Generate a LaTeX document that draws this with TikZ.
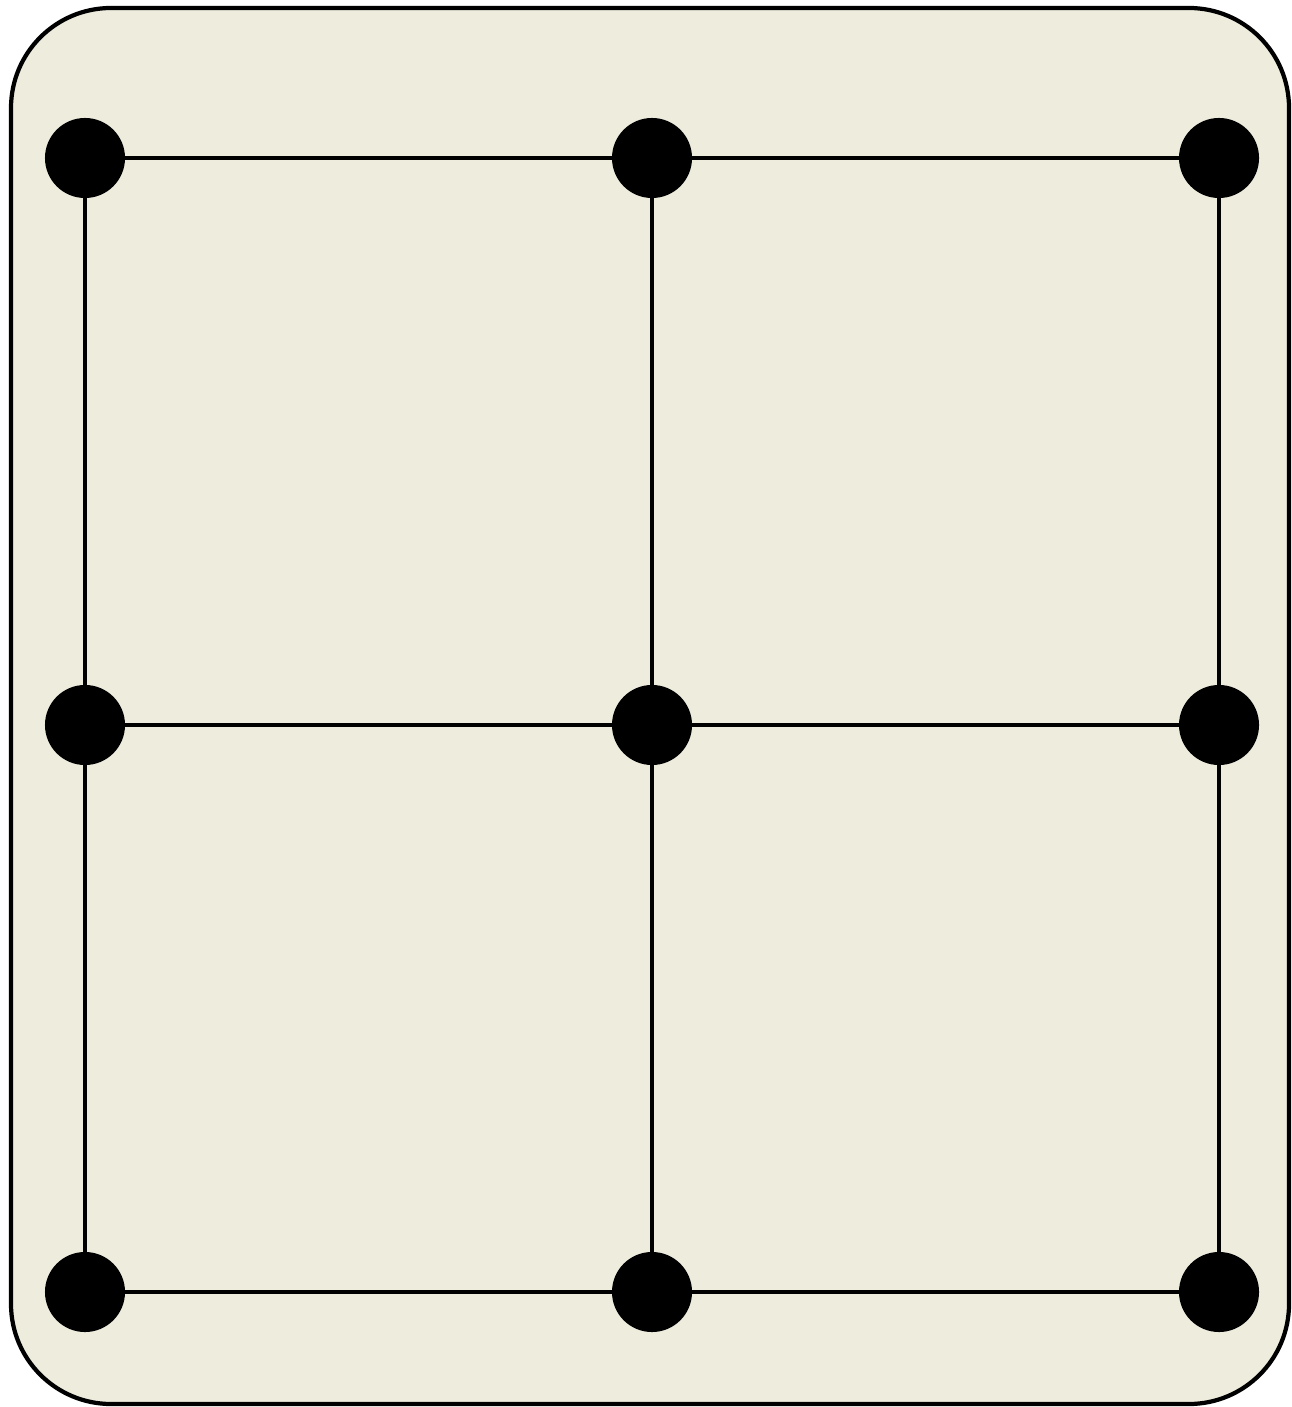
\documentclass[tikz,border=0pt]{standalone}
\usetikzlibrary{positioning}
\definecolor{parchment}{RGB}{238,236,221}
\tikzset{
  dot/.style={circle, fill=black, minimum size=0.8cm, inner sep=0pt, outer sep=0pt},
  edge line/.style={line width=0.9pt},
}

\begin{document}
\begin{tikzpicture}[x=0.01cm, y=-0.01cm]
      \useasboundingbox (0,0) rectangle (1292,1407);
      \draw[line width=1.2pt, fill=parchment, rounded corners=1cm] (11,8) rectangle (1289,1404);
      % grid of dots
      \foreach \i/\x in {1/85, 2/652, 3/1219}
        \foreach \j/\y in {1/158, 2/725, 3/1292}
          \node[dot] (d\i\j) at (\x,\y) {};
      \foreach \j in {1,2,3}
        \draw[edge line] (d1\j) -- (d2\j) -- (d3\j);
      \foreach \i in {1,2,3}
        \draw[edge line] (d\i1) -- (d\i2) -- (d\i3);
    \end{tikzpicture}
\end{document}
